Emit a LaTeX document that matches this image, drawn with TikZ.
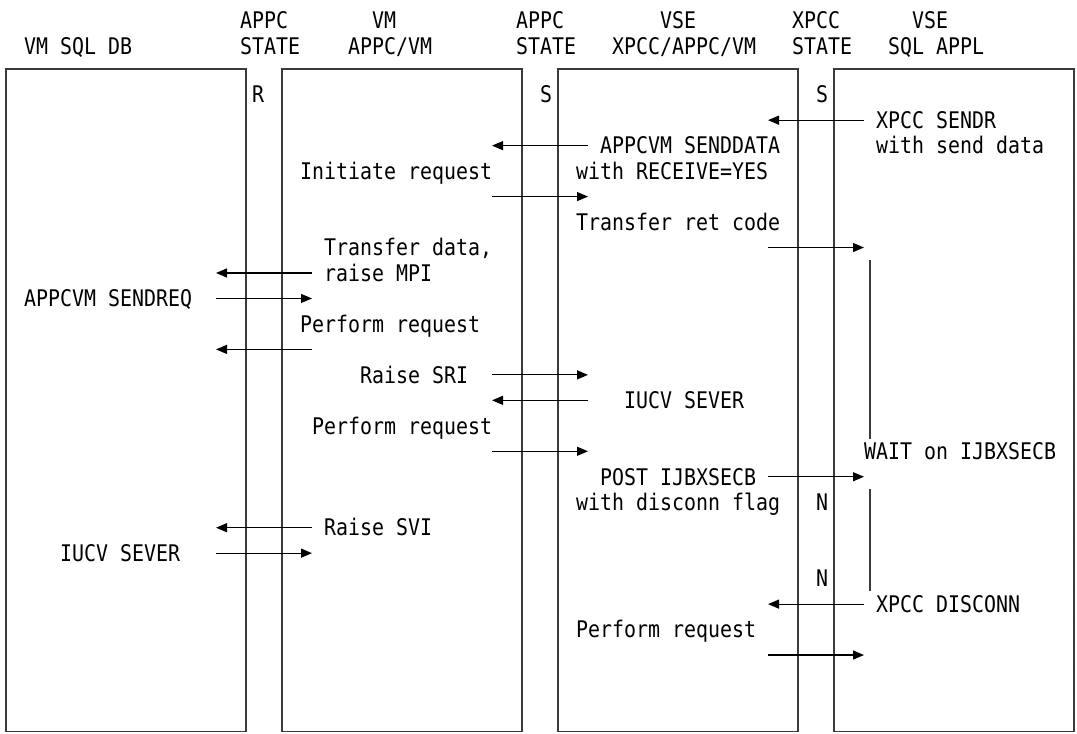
\documentclass[tikz,border=0pt]{standalone}
\usepackage{fontspec}
\usepackage{xcolor}
\usetikzlibrary{arrows.meta}
\newfontfamily\screenfont[FakeStretch=0.87]{DejaVu Sans Mono}
\definecolor{ink}{RGB}{0,0,0}
\definecolor{boxink}{RGB}{58,58,58}

\begin{document}
\begin{tikzpicture}[
  x=12pt,y=-25.47pt,shift={(6pt,-94.7pt)},
  every node/.style={font=\screenfont\fontsize{22.9}{25.5}\selectfont,text=ink},
  txt/.style={anchor=base west,inner sep=0pt,yshift=-8.3pt},
  lane/.style={draw=boxink,line width=1.6pt},
  tick/.style={draw=boxink,line width=1pt},
  msg/.style={-{Triangle[length=11pt,width=9pt]},line width=1.2pt,draw=ink},
  waitbar/.style={draw=boxink,line width=1.6pt}
]
\useasboundingbox (-0.5,-3.718) rectangle (89.25,25.1);

% the four programs
\draw[lane] (0,-1) rectangle (20,25);
\draw[lane] (23,-1) rectangle (43,25);
\draw[lane] (46,-1) rectangle (66,25);
\draw[lane] (69,-1) rectangle (89,25);
\foreach \x in {0,20,23,43,46,66,69,89}
  \foreach \r in {-0.5,0.5,...,24.5}
    \draw[tick] (\x-0.11,\r) -- (\x+0.11,\r);

% headings
\node[txt] (db) at (1.5,-1.92) {VM SQL DB};
\node[txt] (st1a) at (19.5,-2.92) {APPC};
\node[txt] (st1b) at (19.5,-1.92) {STATE};
\node[txt] (vm1) at (30.5,-2.92) {VM};
\node[txt] (vm2) at (28.5,-1.92) {APPC/VM};
\node[txt] (st2a) at (42.5,-2.92) {APPC};
\node[txt] (st2b) at (42.5,-1.92) {STATE};
\node[txt] (vse1) at (54.5,-2.92) {VSE};
\node[txt] (vse2) at (50.5,-1.92) {XPCC/APPC/VM};
\node[txt] (st3a) at (65.5,-2.92) {XPCC};
\node[txt] (st3b) at (65.5,-1.92) {STATE};
\node[txt] (app1) at (75.5,-2.92) {VSE};
\node[txt] (app2) at (73.5,-1.92) {SQL APPL};

% states
\node[txt] (sR) at (20.5,0) {R};
\node[txt] (sS1) at (44.5,0) {S};
\node[txt] (sS2) at (67.5,0) {S};
\node[txt] (sN1) at (67.5,16) {N};
\node[txt] (sN2) at (67.5,19) {N};

% messages
\node[txt] (sendr) at (72.5,1) {XPCC SENDR};
\node[txt] (sendr2) at (72.5,2) {with send data};
\node[txt] (snddata) at (49.5,2) {APPCVM SENDDATA};
\node[txt] (snddata2) at (47.5,3) {with RECEIVE=YES};
\node[txt] (init) at (24.5,3) {Initiate request};
\node[txt] (retcode) at (47.5,5) {Transfer ret code};
\node[txt] (xfer) at (26.5,6) {Transfer data,};
\node[txt] (xfer2) at (26.5,7) {raise MPI};
\node[txt] (sendreq) at (1.5,8) {APPCVM SENDREQ};
\node[txt] (perf1) at (24.5,9) {Perform request};
\node[txt] (sri) at (29.5,11) {Raise SRI};
\node[txt] (sever1) at (51.5,12) {IUCV SEVER};
\node[txt] (perf2) at (25.5,13) {Perform request};
\node[txt] (wait) at (71.5,14) {WAIT on IJBXSECB};
\node[txt] (post) at (49.5,15) {POST IJBXSECB};
\node[txt] (post2) at (47.5,16) {with disconn flag};
\node[txt] (svi) at (26.5,17) {Raise SVI};
\node[txt] (sever2) at (4.5,18) {IUCV SEVER};
\node[txt] (disc) at (72.5,20) {XPCC DISCONN};
\node[txt] (perf3) at (47.5,21) {Perform request};

% flows
\foreach \r/\a/\b [count=\i] in {1/71.5/63.5, 2/48.5/40.5, 4/40.5/48.5,
    6/63.5/71.5, 7/25.5/17.5, 8/17.5/25.5, 10/25.5/17.5, 11/40.5/48.5,
    12/48.5/40.5, 14/40.5/48.5, 15/63.5/71.5, 17/25.5/17.5, 18/17.5/25.5,
    20/71.5/63.5, 22/63.5/71.5}{
  \coordinate (t\i) at (\a,\r);
  \coordinate (h\i) at (\b,\r);
  \draw[msg] (t\i) -- (h\i);
}

% wait bars
\coordinate (w1a) at (72,6.5);
\coordinate (w1b) at (72,13.5);
\coordinate (w2a) at (72,15.5);
\coordinate (w2b) at (72,19.5);
\draw[waitbar] (w1a) -- (w1b);
\draw[waitbar] (w2a) -- (w2b);
\end{tikzpicture}
\end{document}
